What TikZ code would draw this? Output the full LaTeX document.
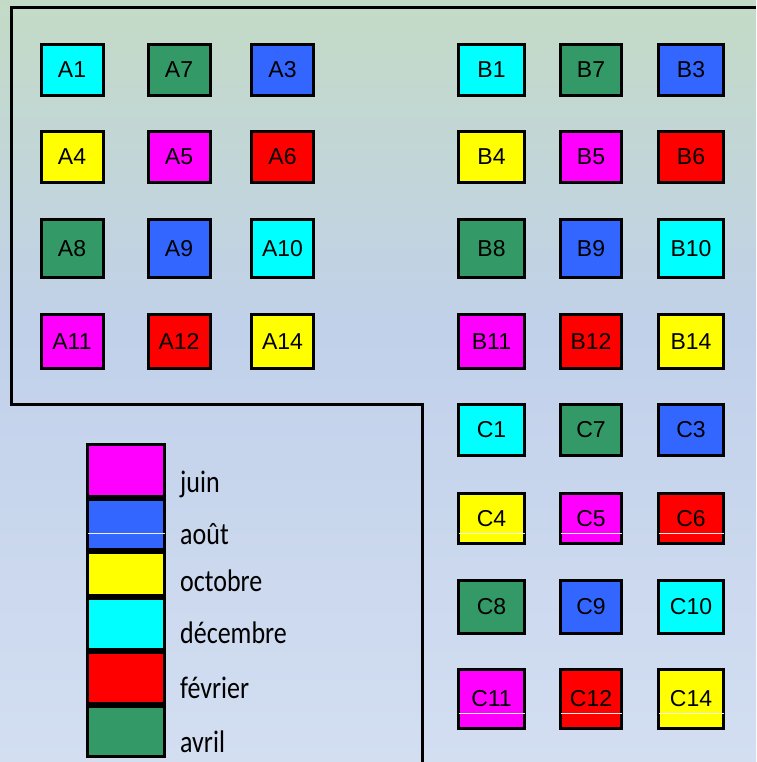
\documentclass[tikz,border=0pt]{standalone}
\usepackage{fontspec}
\setmainfont{Liberation Sans}
\newfontfamily\legendefont{Carlito}

\definecolor{fondhaut}{RGB}{195,219,198}
\definecolor{fondmilieu}{RGB}{193,209,234}
\definecolor{fondbas}{RGB}{211,222,241}
\definecolor{turq}{RGB}{0,255,255}
\definecolor{vert}{RGB}{51,153,102}
\definecolor{bleu}{RGB}{51,102,255}
\definecolor{jaune}{RGB}{255,255,0}
\definecolor{mauve}{RGB}{255,0,255}
\definecolor{rouge}{RGB}{255,0,0}

\newcommand{\mois}[1]{\scalebox{1}[1.2]{#1}}

\tikzset{
  bac/.style={draw=black, line width=3pt, inner sep=0pt, font=\fontsize{23}{23}\selectfont},
  case/.style={draw=black, line width=3pt, inner sep=0pt, minimum width=77pt},
  etiquette/.style={inner sep=0pt, font=\legendefont\fontsize{26}{26}\selectfont},
  artefact/.style={white!88!gray, line width=0.8pt}
}

\begin{document}
\begin{tikzpicture}[x=1pt, y=-1pt]
    % fond degrade
    \shade[top color=fondhaut, bottom color=fondmilieu] (0,0) rectangle (756,330);
    \shade[top color=fondmilieu, bottom color=fondbas] (0,329.5) rectangle (756,762);
    \useasboundingbox (0,0) rectangle (756,762);

    % contour de la zone A/B
    \draw[line width=3pt] (756,8) -- (11,8) -- (11,404) -- (422,404) -- (422,762);

    % bloc A
    \foreach \nom/\x/\y/\h/\col in {A1/72/70/51/turq, A7/179/70/51/vert, A3/282.5/70/51/bleu,
        A4/72/157/51/jaune, A5/179/157/51/mauve, A6/282.5/157/51/rouge,
        A8/72/248.5/58/vert, A9/179/248.5/58/bleu, A10/282.5/248.5/58/turq,
        A11/72/341.5/54/mauve, A12/179/341.5/54/rouge, A14/282.5/341.5/54/jaune}
        \node[bac, minimum width=62pt, minimum height=\h pt, fill=\col] (\nom) at (\x,\y) {\nom};

    % bloc B
    \foreach \nom/\x/\w/\col in {B1/491.5/66/turq, B7/591/61/vert, B3/691/65/bleu}
        \node[bac, minimum width=\w pt, minimum height=51pt, fill=\col] (\nom) at (\x,70) {\nom};
    \foreach \nom/\x/\w/\col in {B4/491.5/66/jaune, B5/591/61/mauve, B6/691/65/rouge}
        \node[bac, minimum width=\w pt, minimum height=51pt, fill=\col] (\nom) at (\x,157) {\nom};
    \foreach \nom/\x/\w/\col in {B8/491.5/66/vert, B9/591/61/bleu, B10/691/65/turq}
        \node[bac, minimum width=\w pt, minimum height=58pt, fill=\col] (\nom) at (\x,248.5) {\nom};
    \foreach \nom/\x/\w/\col in {B11/491.5/66/mauve, B12/591/61/rouge, B14/691/65/jaune}
        \node[bac, minimum width=\w pt, minimum height=54pt, fill=\col] (\nom) at (\x,341.5) {\nom};

    % bloc C
    \foreach \nom/\x/\w/\col in {C1/491.5/66/turq, C7/591/61/vert, C3/691/65/bleu}
        \node[bac, minimum width=\w pt, minimum height=51pt, fill=\col] (\nom) at (\x,430) {\nom};
    \foreach \nom/\x/\w/\col in {C4/491.5/66/jaune, C5/591/61/mauve, C6/691/65/rouge}
        \node[bac, minimum width=\w pt, minimum height=50pt, fill=\col] (\nom) at (\x,518.5) {\nom};
    \foreach \nom/\x/\w/\col in {C8/491.5/66/vert, C9/591/61/bleu, C10/691/65/turq}
        \node[bac, minimum width=\w pt, minimum height=53pt, fill=\col] (\nom) at (\x,607) {\nom};
    \foreach \nom/\x/\w/\col in {C11/491.5/66/mauve, C12/591/61/rouge, C14/691/65/jaune}
        \node[bac, minimum width=\w pt, minimum height=59pt, fill=\col] (\nom) at (\x,699) {\nom};

    % legende
    \node[case, fill=mauve, minimum height=52pt] (juin) at (126,470.5) {};
    \node[case, fill=bleu, minimum height=50pt] (aout) at (126,524.5) {};
    \node[case, fill=jaune, minimum height=43pt] (octobre) at (126,574) {};
    \node[case, fill=turq, minimum height=51pt] (decembre) at (126,624) {};
    \node[case, fill=rouge, minimum height=51pt] (fevrier) at (126,678) {};
    \node[case, fill=vert, minimum height=50pt] (avril) at (126,731.5) {};

    \node[etiquette, anchor=base west] (l-juin) at (180,492) {\mois{juin}};
    \node[etiquette, anchor=base west] (l-aout) at (180,544) {\mois{août}};
    \node[etiquette, anchor=base west] (l-octobre) at (180,591) {\mois{octobre}};
    \node[etiquette, anchor=base west] (l-decembre) at (180,643) {\mois{décembre}};
    \node[etiquette, anchor=base west] (l-fevrier) at (180,698) {\mois{février}};
    \node[etiquette, anchor=base west] (l-avril) at (180,752) {\mois{avril}};

    % fines lignes claires
    \draw[artefact] ([xshift=1.5pt]aout.west |- 0,533) -- ([xshift=-1.5pt]aout.east |- 0,533);
    \foreach \nom in {C4, C5, C6}
        \draw[artefact] ([xshift=1.5pt]\nom.west |- 0,533) -- ([xshift=-1.5pt]\nom.east |- 0,533);
    \foreach \nom in {C11, C12, C14}
        \draw[artefact] ([xshift=1.5pt]\nom.west |- 0,713) -- ([xshift=-1.5pt]\nom.east |- 0,713);
\end{tikzpicture}
\end{document}
